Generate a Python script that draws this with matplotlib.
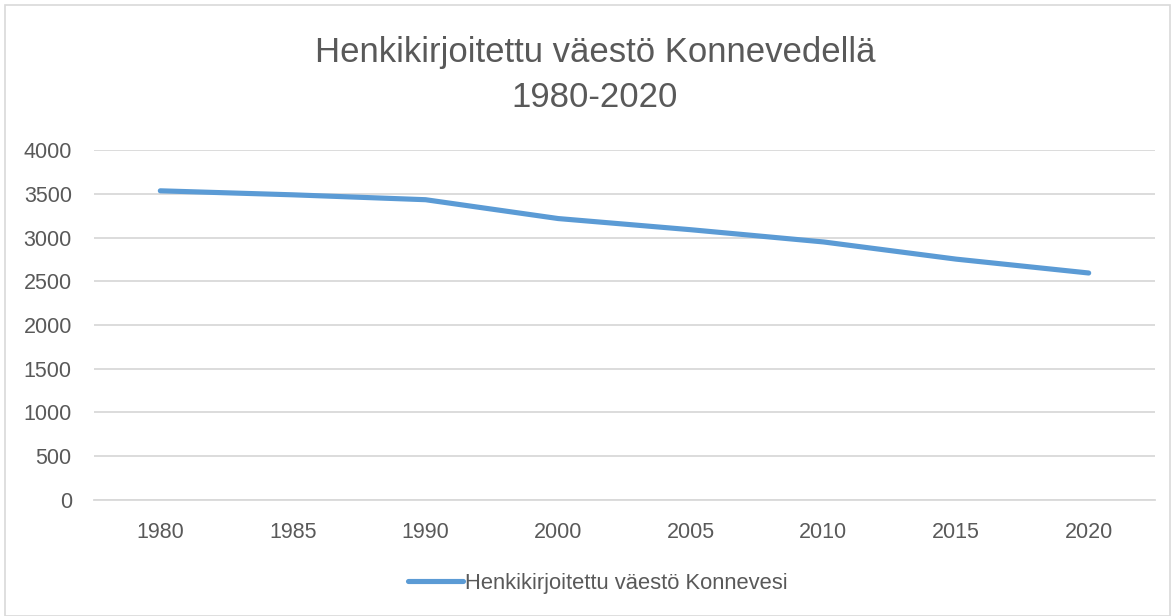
import matplotlib.pyplot as plt
from matplotlib.patches import Rectangle

plt.rcParams['font.family'] = ['Liberation Sans', 'DejaVu Sans']

# Data
years = ['1980', '1985', '1990', '2000', '2005', '2010', '2015', '2020']
population = [3538, 3492, 3436, 3220, 3092, 2952, 2755, 2596]
y_ticks = [0, 500, 1000, 1500, 2000, 2500, 3000, 3500, 4000]

text_color = '#595959'
line_color = '#5B9BD5'
grid_color = '#D9D9D9'

fig = plt.figure(figsize=(11.75, 6.16), dpi=100)
ax = fig.add_axes([94 / 1175, 1 - 499.5 / 616, 1061 / 1175, 349 / 616])

x = list(range(len(years)))
ax.plot(x, population, color=line_color, linewidth=3.7, solid_capstyle='round',
        label='Henkikirjoitettu väestö Konnevesi')

ax.set_xlim(-0.5, len(years) - 0.5)
ax.set_ylim(0, 4000)
ax.set_yticks(y_ticks)
ax.set_xticks(x)
ax.set_xticklabels(years)
ax.yaxis.grid(True, color=grid_color, linewidth=1.3)
ax.set_axisbelow(True)
for side in ['top', 'right', 'left']:
    ax.spines[side].set_visible(False)
ax.spines['bottom'].set_color(grid_color)
ax.spines['bottom'].set_linewidth(1.3)
ax.tick_params(axis='both', length=0, labelsize=15.5, labelcolor=text_color)
ax.tick_params(axis='x', pad=16)
ax.tick_params(axis='y', pad=16)

fig.text(595 / 1175, 1 - 75 / 616, 'Henkikirjoitettu väestö Konnevedellä\n1980-2020',
         ha='center', va='center', fontsize=25, color=text_color, linespacing=1.45)

fig.legend(loc='center', bbox_to_anchor=(598 / 1175, 1 - 583 / 616), frameon=False,
           fontsize=15.8, labelcolor=text_color, handlelength=2.5, handletextpad=0.1)

fig.patches.append(Rectangle((5 / 1175, 0), 1165 / 1175, 1 - 5 / 616, transform=fig.transFigure,
                             fill=False, edgecolor=grid_color, linewidth=1.2))

plt.savefig('out.png', dpi=100)
